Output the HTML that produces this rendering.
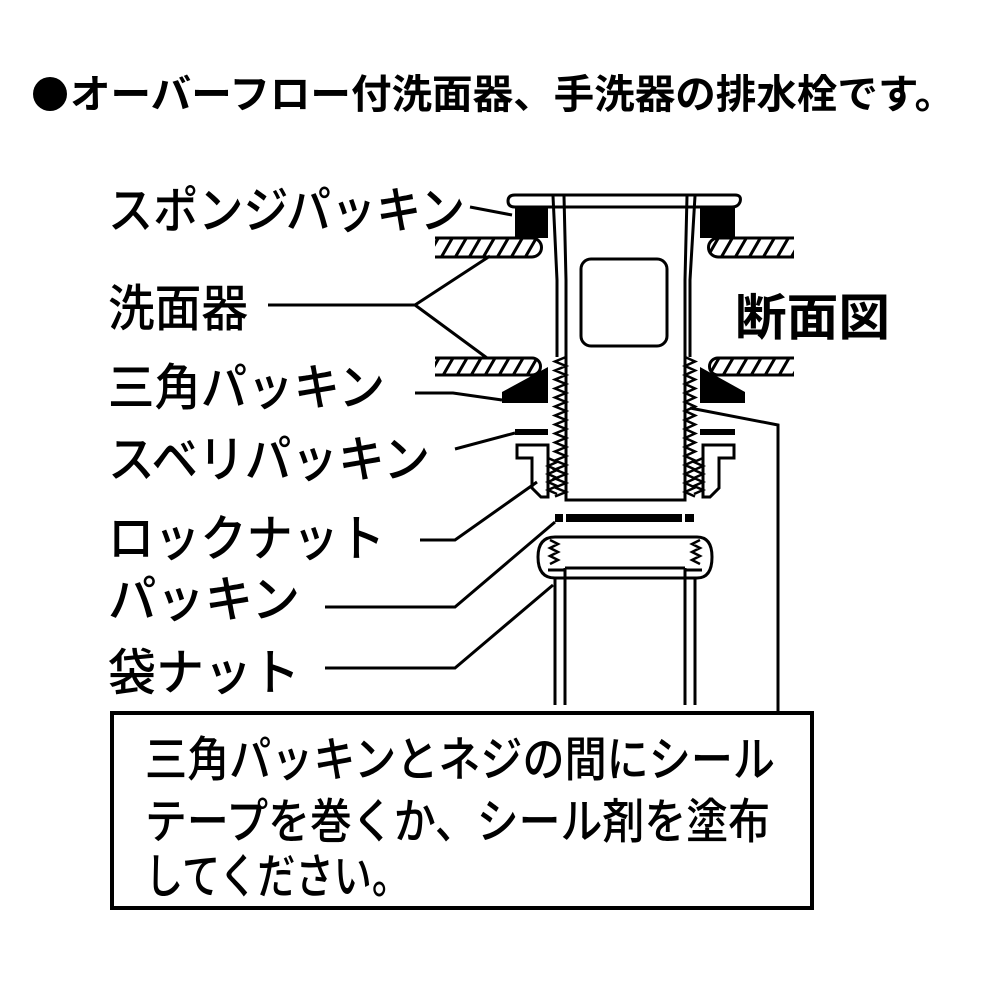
<!DOCTYPE html>
<html><head><meta charset="utf-8"><style>
html,body{margin:0;padding:0;background:#fff;}
svg{display:block;}
text{font-family:"Liberation Sans","Noto Sans CJK JP",sans-serif;fill:#000;}
</style></head><body>
<svg id="s" width="1000" height="1000" viewBox="0 0 1000 1000" xmlns="http://www.w3.org/2000/svg">
<defs>
<pattern id="h" width="14" height="20" patternUnits="userSpaceOnUse" patternTransform="skewX(-30)">
<rect width="14" height="20" fill="#fff"/><rect x="0" width="3.5" height="20" fill="#000"/>
</pattern>
</defs>
<circle cx="50" cy="94" r="17" fill="#000"/>
<text x="70" y="108" font-size="40" font-weight="bold" textLength="885" lengthAdjust="spacingAndGlyphs">オーバーフロー付洗面器、手洗器の排水栓です。</text>

<g font-size="50" font-weight="500">
<text x="108" y="228" textLength="357" lengthAdjust="spacingAndGlyphs">スポンジパッキン</text>
<text x="108" y="326" textLength="140" lengthAdjust="spacingAndGlyphs">洗面器</text>
<text x="108" y="405" textLength="277" lengthAdjust="spacingAndGlyphs">三角パッキン</text>
<text x="108" y="477" textLength="322" lengthAdjust="spacingAndGlyphs">スベリパッキン</text>
<text x="108" y="556" textLength="277" lengthAdjust="spacingAndGlyphs">ロックナット</text>
<text x="108" y="617" textLength="192" lengthAdjust="spacingAndGlyphs">パッキン</text>
<text x="108" y="690" textLength="192" lengthAdjust="spacingAndGlyphs">袋ナット</text>
</g>
<text x="735" y="335" font-size="50" font-weight="bold" textLength="155" lengthAdjust="spacingAndGlyphs">断面図</text>

<g fill="none" stroke="#000" stroke-width="3">
<path d="M433 238 H532 A9.5 9.5 0 0 1 532 257 H433" fill="url(#h)"/>
<path d="M795 238 H718 A9.5 9.5 0 0 0 718 257 H795" fill="url(#h)"/>
<path d="M433 358 H532 A8.5 8.5 0 0 1 532 375 H433" fill="url(#h)"/>
<path d="M795 358 H718 A8.5 8.5 0 0 0 718 375 H795" fill="url(#h)"/>
<rect x="425" y="236" width="10" height="24" fill="#fff" stroke="none"/>
<rect x="794" y="236" width="10" height="24" fill="#fff" stroke="none"/>
<rect x="425" y="356" width="10" height="22" fill="#fff" stroke="none"/>
<rect x="794" y="356" width="10" height="22" fill="#fff" stroke="none"/>
<path d="M515 195 H735 Q742 195 740 202 Q738 207 732 207 H515 Q508 207 508 201 Q508 195 515 195Z" fill="#fff"/>
<path d="M553 196 L557 280 V357 M564 196 L566 280 V357 M695 196 L690 280 V357 M687 196 L685 280 V357" />
<rect x="581" y="259" width="86" height="87" rx="10"/>
<path d="M566 357 V500 H685 V357"/>
<path d="M555 537 H697 Q712 537 712 557 Q712 578 697 578 H555 Q538 578 538 557 Q538 537 555 537Z" fill="#fff"/>
<path d="M565 568 H685"/>
<path d="M555 578 V705 M565 568 V705 M695 578 V705 M685 568 V705"/>
<path d="M548 570 H565 M702 570 H685"/>
<path d="M517 445 H548 V497 H541 L532 488 V458 H517Z" fill="#fff"/>
<path d="M734 445 H703 V497 H710 L719 488 V458 H734Z" fill="#fff"/>
<path d="M470 207 L512 215"/>
<path d="M268 305 H415 L490 256 M415 305 L487 358"/>
<path d="M415 393 H453 L502 400"/>
<path d="M455 449 L515 433"/>
<path d="M420 540 H455 L537 482"/>
<path d="M325 607 H455 L555 522"/>
<path d="M325 668 H455 L553 585"/>
<path d="M690 408 L778 425 V715"/>
</g>
<g id="thr" fill="none" stroke="#000" stroke-width="2.5"></g>
<g fill="#000">
<rect x="515" y="207" width="33" height="31"/>
<rect x="700" y="207" width="35" height="31"/>
<polygon points="502,392 548,367 548,403 502,403"/>
<polygon points="700,367 745,392 745,403 700,403"/>
<rect x="515" y="429" width="33" height="6"/>
<rect x="700" y="429" width="35" height="6"/>
<rect x="555" y="514" width="8" height="8"/>
<rect x="566" y="514" width="116" height="8"/>
<rect x="685" y="514" width="9" height="8"/>
</g>
<rect x="112" y="713" width="700" height="195" fill="none" stroke="#000" stroke-width="4"/>
<g font-size="48" font-weight="500">
<text x="145" y="776" textLength="630" lengthAdjust="spacingAndGlyphs">三角パッキンとネジの間にシール</text>
<text x="145" y="838" textLength="625" lengthAdjust="spacingAndGlyphs">テープを巻くか、シール剤を塗布</text>
<text x="145" y="893" textLength="265" lengthAdjust="spacingAndGlyphs">してください。</text>
</g>
</svg>
<script>
(function(){
var g=document.getElementById('thr');
function zz(x0,x1,y0,y1,step){var d='M'+x0+' '+y0;var t=0;for(var y=y0+step/2;y<=y1;y+=step/2){t^=1;d+=' L'+(t?x1:x0)+' '+y;}return d;}
var p='';
p+=zz(566,555,357,500,9)+' ';
p+=zz(685,695,357,500,9)+' ';
p+=zz(548,557,458,497,8)+' ';
p+=zz(703,694,458,497,8)+' ';
p+=zz(550,558,540,566,8)+' ';
p+=zz(700,692,540,566,8);
var e=document.createElementNS('http://www.w3.org/2000/svg','path');e.setAttribute('d',p);g.appendChild(e);
})();
</script>
</body></html>
